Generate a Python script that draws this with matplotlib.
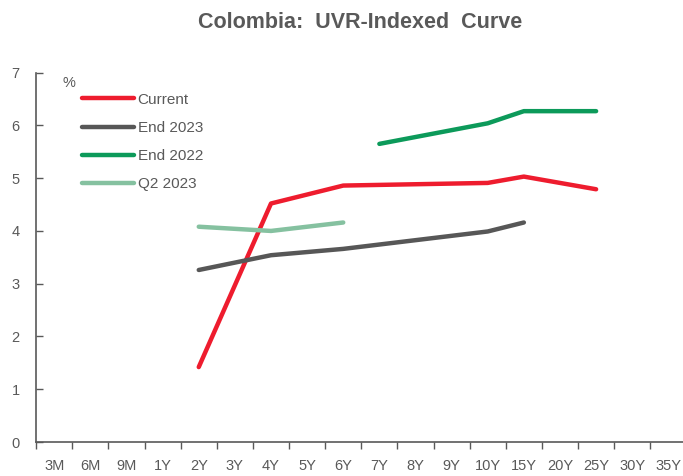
import numpy as np
import matplotlib.pyplot as plt

plt.rcParams['font.family'] = ['Liberation Sans', 'DejaVu Sans']

tenors = ['3M', '6M', '9M', '1Y', '2Y', '3Y', '4Y', '5Y', '6Y', '7Y', '8Y', '9Y',
          '10Y', '15Y', '20Y', '25Y', '30Y', '35Y']

current_x = ['2Y', '4Y', '6Y', '10Y', '15Y', '25Y']
current_y = [1.42, 4.52, 4.86, 4.91, 5.03, 4.79]

end2023_x = ['2Y', '4Y', '6Y', '10Y', '15Y']
end2023_y = [3.26, 3.54, 3.66, 3.99, 4.16]

end2022_x = ['7Y', '10Y', '15Y', '25Y']
end2022_y = [5.65, 6.04, 6.27, 6.27]

q22023_x = ['2Y', '4Y', '6Y']
q22023_y = [4.08, 4.00, 4.16]

series = [
    ('Current', current_x, current_y, '#ee1c2e'),
    ('End 2023', end2023_x, end2023_y, '#575757'),
    ('End 2022', end2022_x, end2022_y, '#0c9a5a'),
    ('Q2 2023', q22023_x, q22023_y, '#85c1a0'),
]

grey = '#595959'

fig = plt.figure(figsize=(6.83, 4.76), dpi=100)
ax = fig.add_axes([0.053, 0.0714, 0.952, 0.776])

pos = {t: i for i, t in enumerate(tenors)}
for name, xs, ys, col in series:
    ax.plot([pos[x] for x in xs], ys, color=col, lw=3.2,
            solid_capstyle='round', label=name)

ax.set_xlim(-0.5, len(tenors) - 0.5)
ax.set_ylim(0, 7)
ax.set_xticks(range(len(tenors)))
ax.set_xticklabels(tenors)
ax.set_xticks(np.arange(-0.5, len(tenors), 1), minor=True)
ax.tick_params(axis='x', which='major', length=0, pad=12, labelsize=10.5, labelcolor=grey)
ax.tick_params(axis='x', which='minor', length=5, direction='out', color=grey, width=1)
ax.tick_params(axis='y', length=5, direction='in', color=grey, width=1,
               labelsize=10.5, labelcolor=grey, pad=12)

for s in ['top', 'right']:
    ax.spines[s].set_visible(False)
for s in ['left', 'bottom']:
    ax.spines[s].set_color(grey)
    ax.spines[s].set_linewidth(1.2)

ax.text(0.04, 0.99, '%', transform=ax.transAxes, fontsize=10.5, color=grey,
        va='top', ha='left')

leg = ax.legend(loc='upper left', bbox_to_anchor=(0.061, 0.962), frameon=False,
                fontsize=11, handlelength=3.4, handletextpad=0.25,
                labelspacing=0.93, borderaxespad=0)
for t in leg.get_texts():
    t.set_color(grey)

fig.suptitle('Colombia:  UVR-Indexed  Curve', fontsize=15.5, fontweight='bold',
             color=grey, y=0.975, x=0.527)

fig.savefig('out.png', dpi=100)
